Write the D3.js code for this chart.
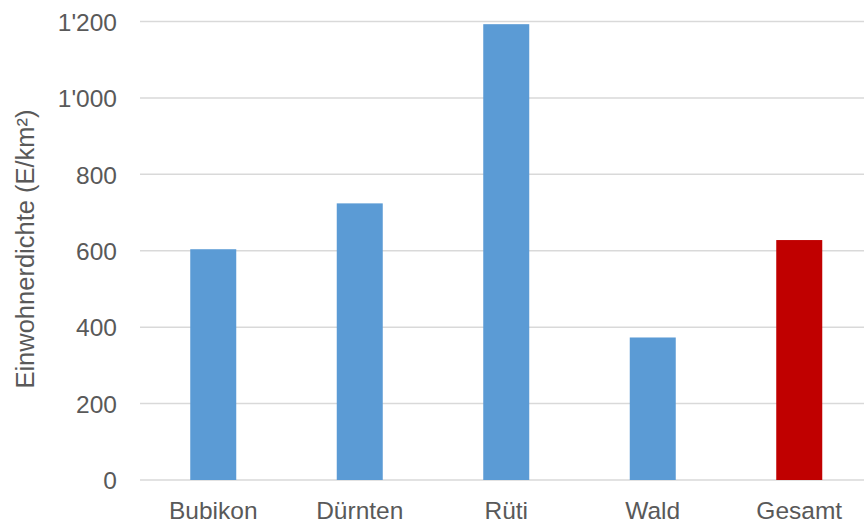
<!DOCTYPE html>
<html><head><meta charset="utf-8">
<script src="https://cdn.jsdelivr.net/npm/d3@7"></script>
<style>html,body{margin:0;padding:0;background:#fff;}svg{display:block;}</style>
</head><body>
<svg id="c" width="864" height="523"></svg>
<script>
const categories = ["Bubikon", "Dürnten", "Rüti", "Wald", "Gesamt"];
const values = [604, 724, 1193, 373, 628];
const barColors = ["#5b9bd5", "#5b9bd5", "#5b9bd5", "#5b9bd5", "#c00000"];
const yTicks = [0, 200, 400, 600, 800, 1000, 1200];
const yTickLabels = ["0", "200", "400", "600", "800", "1'000", "1'200"];
const yTitle = "Einwohnerdichte (E/km²)";

const svg = d3.select("#c");
const font = "'Liberation Sans', Arial, sans-serif";
const x = d3.scaleBand().domain(categories).range([140, 872.5]).paddingInner(0.686).paddingOuter(0.343);
const y = d3.scaleLinear().domain([0, 1200]).range([480, 21.5]);

// gridlines
svg.append("g").selectAll("line").data(yTicks).join("line")
  .attr("x1", 140).attr("x2", 872)
  .attr("y1", d => y(d)).attr("y2", d => y(d))
  .attr("stroke", "#d9d9d9").attr("stroke-width", 1.5);

// bars
svg.append("g").selectAll("rect").data(categories).join("rect")
  .attr("x", d => x(d)).attr("width", x.bandwidth())
  .attr("y", (d, i) => y(values[i])).attr("height", (d, i) => y(0) - y(values[i]))
  .attr("fill", (d, i) => barColors[i]);

// y axis labels
const yAxis = d3.axisLeft(y).tickValues(yTicks).tickSize(0).tickPadding(23)
  .tickFormat((d, i) => yTickLabels[i]);
const gy = svg.append("g").attr("transform", "translate(140,0)").call(yAxis);
gy.select(".domain").remove();
gy.selectAll("text").attr("font-family", font).attr("font-size", 24.5).attr("fill", "#595959").attr("dy", "0.36em");

// x axis labels
svg.append("g").selectAll("text").data(categories).join("text")
  .attr("x", d => x(d) + x.bandwidth() / 2).attr("y", 519)
  .attr("text-anchor", "middle").attr("font-family", font).attr("font-size", 24.5).attr("fill", "#595959")
  .text(d => d);

// y title
svg.append("text").attr("transform", "translate(34,249) rotate(-90)")
  .attr("text-anchor", "middle").attr("font-family", font).attr("font-size", 25.5).attr("fill", "#595959")
  .text(yTitle);
</script>
</body></html>
